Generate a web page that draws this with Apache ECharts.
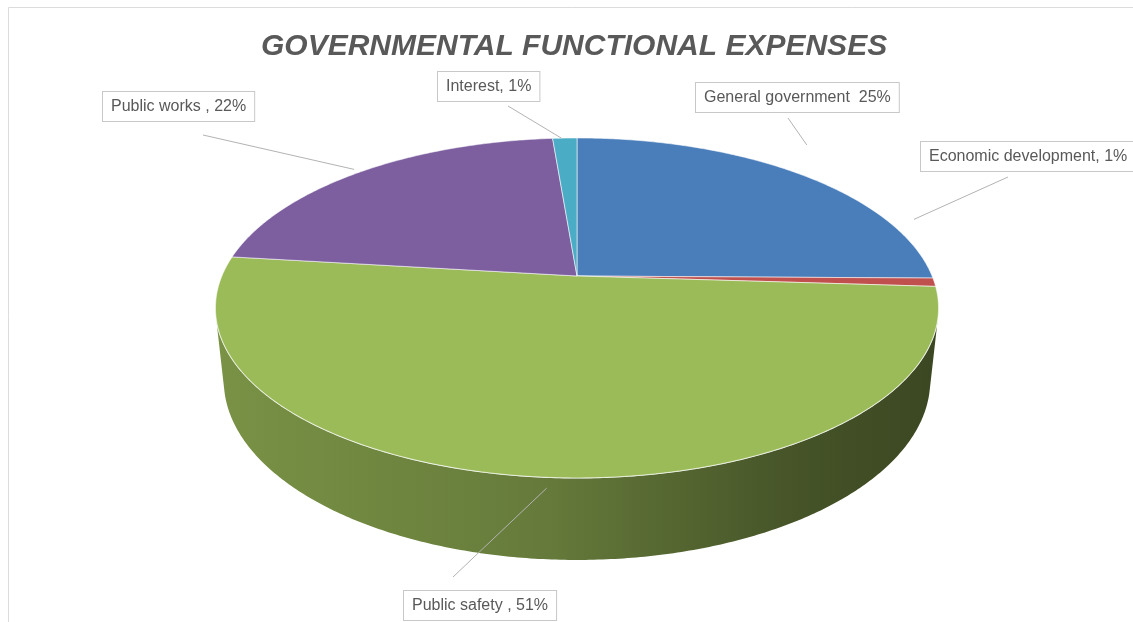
<!DOCTYPE html>
<html><head><meta charset="utf-8">
<script src="https://cdn.jsdelivr.net/npm/echarts@6/dist/echarts.min.js"></script>
<style>html,body{margin:0;padding:0;background:#fff}#c{width:1133px;height:622px}</style>
</head><body><div id="c"></div>
<script>
// ---------- data ----------
const chartTitle = 'GOVERNMENTAL FUNCTIONAL EXPENSES';
const categories = ['General government', 'Economic development', 'Public safety', 'Public works', 'Interest'];
const values = [25.2, 0.8, 50.9, 21.8, 1.3];
const labelSeparators = ['  ', ', ', ' , ', ' , ', ', '];

// ---------- styles / layout ----------
const colors = ['#4a7ebb', '#c0504d', '#9bbb59', '#7d5fa0', '#4bacc6'];
const geo = { cx: 577, cy: 276, F: 1676, D: 4.72, phi: 27.5 * Math.PI / 180, t: 0.232 };
// label box top-left, leader outer end, leader inner anchor (angle deg, radius factor, drop)
const labelLayout = [
  { x: 696, y: 83, from: [788, 118], ang: 39, r: 1.21, drop: 0 },
  { x: 921, y: 142, from: [1008, 177], ang: 70, r: 1.08, drop: 0 },
  { x: 404, y: 591, from: [453, 577], ang: 184, r: 1.0, drop: 0.03 },
  { x: 103, y: 92, from: [203, 135], ang: 316, r: 1.03, drop: 0 },
  { x: 438, y: 72, from: [508, 106], ang: -3, r: 1.0, drop: 0 }
];

const total = values.reduce((a, b) => a + b, 0);
const startFrac = [];
values.reduce((acc, v, i) => { startFrac[i] = acc; return acc + v; }, 0);

function proj(theta, r, y) {
  const s = Math.sin(geo.phi), c = Math.cos(geo.phi);
  const X = r * Math.sin(theta), Z = -r * Math.cos(theta);
  const depth = geo.D - y * s - Z * c;
  const up = y * c - Z * s;
  return [geo.cx + geo.F * X / depth, geo.cy - geo.F * up / depth];
}
function arc(a0, a1, y) {
  const pts = [];
  const n = Math.max(2, Math.ceil(Math.abs(a1 - a0) / 0.01));
  for (let k = 0; k <= n; k++) pts.push(proj(a0 + (a1 - a0) * k / n, 1, y));
  return pts;
}
function shade(hex, f) {
  const n = parseInt(hex.slice(1), 16);
  const r = Math.round(((n >> 16) & 255) * f), g = Math.round(((n >> 8) & 255) * f), b = Math.round((n & 255) * f);
  return 'rgb(' + r + ',' + g + ',' + b + ')';
}
// visible range of the outer wall
const visLim = Math.acos(-1 / (geo.D * Math.cos(geo.phi)));
const vis0 = visLim, vis1 = 2 * Math.PI - visLim;

function renderItem(params, api) {
  const i = params.dataIndex;
  const v = api.value(0);
  const a0 = startFrac[i] / total * 2 * Math.PI;
  const a1 = (startFrac[i] + v) / total * 2 * Math.PI;
  const children = [];
  // outer wall
  const s0 = Math.max(a0, vis0), s1 = Math.min(a1, vis1);
  if (s1 > s0) {
    const top = arc(s0, s1, 0);
    const bot = arc(s0, s1, -geo.t).reverse();
    children.push({
      type: 'polygon',
      shape: { points: top.concat(bot) },
      style: {
        fill: { type: 'linear', x: 0, y: 0, x2: 1, y2: 0, colorStops: [
          { offset: 0, color: shade(colors[i], 0.78) },
          { offset: 0.45, color: shade(colors[i], 0.66) },
          { offset: 0.8, color: shade(colors[i], 0.45) },
          { offset: 1, color: shade(colors[i], 0.38) }
        ] },
        stroke: null
      }
    });
    children.push({ type: 'polyline', shape: { points: top }, style: { stroke: 'rgba(255,255,255,0.85)', lineWidth: 1.2, fill: null } });
  }
  // top face
  const pts = [proj(0, 0, 0)].concat(arc(a0, a1, 0));
  children.push({
    type: 'polygon',
    shape: { points: pts },
    style: { fill: colors[i], stroke: 'rgba(255,255,255,0.7)', lineWidth: 0.8 }
  });
  // leader line + label
  const L = labelLayout[i];
  const inner = proj(L.ang * Math.PI / 180, L.r, -L.drop);
  children.push({
    type: 'line',
    shape: { x1: L.from[0], y1: L.from[1], x2: inner[0], y2: inner[1] },
    style: { stroke: '#b3b3b3', lineWidth: 1 }
  });
  const pct = Math.round(v / total * 100) + '%';
  children.push({
    type: 'text',
    x: L.x, y: L.y,
    style: {
      text: categories[i] + labelSeparators[i] + pct,
      fill: '#595959',
      font: '16px "Liberation Sans", Arial, sans-serif',
      align: 'left', verticalAlign: 'top',
      backgroundColor: '#fff',
      borderColor: '#c8c8c8', borderWidth: 1,
      padding: [7, 8, 6, 8]
    }
  });
  return { type: 'group', children: children };
}

const chart = echarts.init(document.getElementById('c'), null, { renderer: 'canvas' });
chart.setOption({
  backgroundColor: '#fff',
  animation: false,
  title: {
    text: chartTitle, left: 256, top: 27,
    textStyle: { fontSize: 30, fontWeight: 'bold', fontStyle: 'italic', color: '#595959', fontFamily: '"Liberation Sans", Arial, sans-serif' }
  },
  graphic: [{ type: 'rect', shape: { x: 8.5, y: 7.5, width: 1300, height: 800 }, style: { fill: null, stroke: '#dcdcdc', lineWidth: 1 }, silent: true }],
  series: [{
    type: 'custom',
    coordinateSystem: 'none',
    renderItem: renderItem,
    data: values.map((v, i) => ({ name: categories[i], value: [v] }))
  }]
});
</script>
</body></html>
